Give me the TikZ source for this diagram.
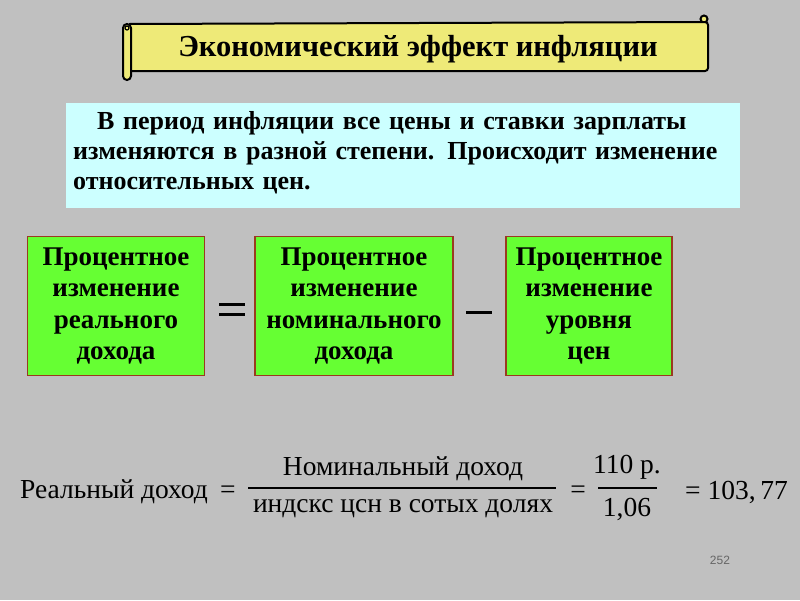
\documentclass[tikz,border=0pt]{standalone}
\usepackage{fontspec}
\setmainfont{Liberation Serif}
\setsansfont{Liberation Sans}
\definecolor{bgc}{HTML}{C0C0C0}
\definecolor{scrollc}{HTML}{EEEA78}
\definecolor{cyanc}{HTML}{CCFFFF}
\definecolor{greenc}{HTML}{66FF33}
\definecolor{borderc}{HTML}{9A3A20}
\begin{document}
\begin{tikzpicture}[x=1pt,y=-1pt,
  scrollpart/.style={draw=black, line width=2pt, fill=scrollc},
  greenbox/.style={draw=borderc, line width=1.5pt, fill=greenc, minimum height=139pt,
    align=center, inner sep=0pt, font=\bfseries\fontsize{27}{31.5}\selectfont},
  opsign/.style={line width=3pt, black},
  fml/.style={font=\fontsize{27.5}{30}\selectfont, inner sep=0pt},
  fracline/.style={line width=1.2pt, black}]
\useasboundingbox (0,0) rectangle (800,600);
\fill[bgc] (0,0) rectangle (800,600);

% title scroll
\draw[scrollpart] (704,19) circle (3.5);
\draw[scrollpart, rounded corners=3pt] (129,24) -- (708,22) -- (708,71) -- (129,71);
\draw[scrollpart, rounded corners=4pt] (123,24) rectangle (131,80);
\draw[black, line width=1.2pt, fill=scrollc] (127,28) circle (2);
\node[font=\bfseries\fontsize{30.5}{34}\selectfont, inner sep=0pt] (title) at (418,49) {Экономический эффект инфляции};

% intro box
\fill[cyanc] (66,103) rectangle (740,208);
\node[anchor=north west, align=left, inner sep=0pt, text width=670pt,
  font=\bfseries\fontsize{26}{30}\selectfont] (intro) at (73,111)
  {\hspace*{24pt}В период инфляции все цены и ставки зарплаты\\
   изменяются в разной степени. Происходит изменение\\
   относительных цен.};

% green boxes
\node[greenbox, minimum width=177pt] (real) at (116,306) {Процентное\\изменение\\реального\\дохода};
\node[greenbox, minimum width=198pt] (nominal) at (354,306) {Процентное\\изменение\\номинального\\дохода};
\node[greenbox, minimum width=166pt] (price) at (589,306) {Процентное\\изменение\\уровня\\цен};

\coordinate (eqa1) at (219,304); \coordinate (eqa2) at (245,304);
\coordinate (eqb1) at (219,314); \coordinate (eqb2) at (245,314);
\draw[opsign] (eqa1) -- (eqa2);
\draw[opsign] (eqb1) -- (eqb2);
\coordinate (mi1) at (466,312); \coordinate (mi2) at (492,312);
\draw[opsign] (mi1) -- (mi2);

% formula
\node[fml, anchor=west] (lhs) at (20,492) {Реальный доход};
\node[fml] (eq1) at (228,492) {=};
\node[fml] (num) at (403,469) {Номинальный доход};
\node[fml] (den) at (403,509) {индскс цсн в сотых долях};
\coordinate (f1a) at (248,488); \coordinate (f1b) at (556,488);
\draw[fracline] (f1a) -- (f1b);
\node[fml] (eq2) at (578,492) {=};
\node[fml] (num2) at (627,467) {110 р.};
\node[fml] (den2) at (627,509) {1,06};
\coordinate (f2a) at (598,488); \coordinate (f2b) at (657,488);
\draw[fracline] (f2a) -- (f2b);
\node[fml, anchor=west] (res) at (685,492) {=\ 103,\,77};

\node[font=\sffamily\fontsize{12}{14}\selectfont, text=black!60, inner sep=0pt] (page) at (720,560) {252};
\end{tikzpicture}
\end{document}
